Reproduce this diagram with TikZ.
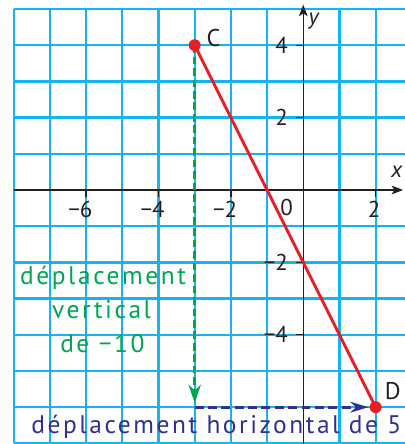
\documentclass[tikz,border=0pt]{standalone}
\usepackage{fontspec}
\setmainfont{PT Sans}
\newfontfamily\lblfont[LetterSpace=10]{PT Sans}
\usetikzlibrary{arrows.meta}
\definecolor{gridc}{RGB}{20,180,240}
\definecolor{redc}{RGB}{237,28,36}
\definecolor{greenc}{RGB}{0,166,81}
\definecolor{bluec}{RGB}{46,49,146}
\definecolor{axisc}{RGB}{35,31,32}
\tikzset{
  gridline/.style={gridc, line width=1.8pt},
  axisline/.style={axisc, line width=1.1pt, -{Stealth[length=3.2mm,width=2.4mm,inset=0.8mm]}},
  tickmark/.style={axisc, line width=1pt},
  ticklbl/.style={text=axisc, inner sep=0pt, font=\fontsize{18}{20}\selectfont},
  redline/.style={redc, line width=2.3pt},
  dot/.style={circle, fill=redc, inner sep=0pt, minimum size=3.3mm},
  greendash/.style={greenc, line width=2.4pt, dash pattern=on 6pt off 3pt, -{Stealth[length=5mm,width=3.4mm,inset=1.6mm]}},
  bluedash/.style={bluec, line width=2.4pt, dash pattern=on 7pt off 3.5pt, -{Stealth[length=5mm,width=3mm,inset=1.6mm]}},
  greentext/.style={text=greenc, inner sep=0pt, anchor=base, font=\lblfont\fontsize{20}{22}\selectfont},
  bluetext/.style={text=bluec, inner sep=0pt, anchor=base, font=\lblfont\fontsize{20}{22}\selectfont},
  ptlbl/.style={text=axisc, inner sep=0pt, font=\fontsize{19}{20}\selectfont},
}
\begin{document}
\begin{tikzpicture}
\useasboundingbox (-8.378,-7.017) rectangle (2.809,5.249);
% grid (lines on the axes are left to the axes)
\foreach \gx in {-8,-7,...,-1,1,2} {
  \draw[gridline] (\gx,-7) -- (\gx,5);
}
\foreach \gy in {-7,-6,...,-1,1,2,3,4,5} {
  \draw[gridline] (-8,\gy) -- (2.809,\gy);
}
% axes
\coordinate (xs) at (-8,0);
\coordinate (xe) at (2.76,0);
\coordinate (ys) at (0,-7.05);
\coordinate (ye) at (0,5.12);
\draw[axisline] (xs) -- (xe);
\draw[axisline] (ys) -- (ye);
% ticks and labels
\foreach \v/\t in {-6/{\llap{−}6},-4/{\llap{−}4},-2/{\llap{−}2}} {
  \draw[tickmark] (\v,0) -- (\v,-0.19);
  \node[ticklbl, anchor=north] (xl\v) at (\v,-0.3) {\t};
}
\draw[tickmark] (2,0) -- (2,-0.19);
\node[ticklbl, anchor=north] (xl2) at (1.96,-0.3) {2};
\node[ticklbl, anchor=north] (xl0) at (-0.46,-0.25) {0};
\foreach \v/\t in {4/4,2/2,-2/−2,-4/−4} {
  \draw[tickmark] (0,\v) -- (-0.2,\v);
  \node[ticklbl, anchor=east] (yl\v) at (-0.42,\v) {\t};
}
\node[ticklbl] (xlab) at (2.58,0.5) {\itshape x};
\node[ticklbl] (ylab) at (0.29,4.66) {\itshape y};
% points
\coordinate (C) at (-3,4);
\coordinate (D) at (2,-6);
\coordinate (G) at (-3,-5.88);
\coordinate (B) at (-3,-6);
\coordinate (Bt) at (1.8,-6);
\draw[greendash] (C) -- (G);
\draw[bluedash] (B) -- (Bt);
\draw[redline] (C) -- (D);
\node[dot] (Cd) at (C) {};
\node[dot] (Dd) at (D) {};
\node[ptlbl] (Cl) at (-2.48,4.21) {C};
\node[ptlbl] (Dl) at (2.47,-5.56) {D};
% texts
\node[greentext] (g1) at (-5.53,-2.62) {déplacement};
\node[greentext] (g2) at (-5.57,-3.56) {vertical};
\node[greentext] (g3) at (-5.55,-4.48) {de −10};
\node[bluetext] (b1) at (-2.40,-6.73) {déplacement horizontal de 5};
\end{tikzpicture}
\end{document}
